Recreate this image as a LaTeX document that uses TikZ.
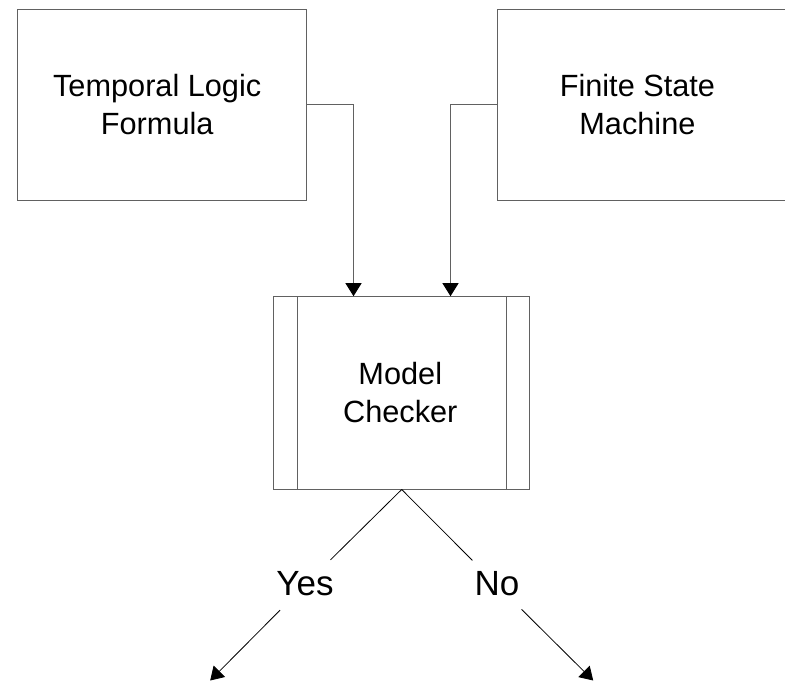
\documentclass[tikz,border=0pt]{standalone}
\usepackage{fontspec}
\setmainfont{Liberation Sans}
\usetikzlibrary{arrows.meta,calc}

\tikzset{
  frame/.style={draw=black!62, line width=1pt, fill=white, inner sep=0pt},
  boxtext/.style={align=center, inner sep=0pt,
    font=\fontsize{30.7}{37.8}\selectfont},
  tip/.style={-{Triangle[width=16pt,length=13pt,color=black]}},
  flow/.style={draw=black!62, line width=1pt, tip},
  verdict/.style={font=\fontsize{35}{40}\selectfont, anchor=base,
    text height=25pt, text depth=5pt, inner xsep=2pt, inner ysep=10pt},
  branch/.style={draw=black, line width=0.8pt},
}

\begin{document}
\begin{tikzpicture}[x=1pt,y=-1pt]
  \path[use as bounding box, clip] (0,0) rectangle (785,681);

  % input boxes
  \node[frame, minimum width=288.5pt, minimum height=191.7pt] (tlf) at (161.75,104.85) {};
  \node[boxtext] (tlft) at (157.2,104.85) {Temporal Logic\\Formula};

  \node[frame, minimum width=288.5pt, minimum height=191.7pt] (fsm) at (641.95,104.85) {};
  \node[boxtext] (fsmt) at (637.4,104.85) {Finite State\\Machine};

  % predefined-process box
  \node[frame, minimum width=256pt, minimum height=192.3pt] (mc) at (401.7,392.85) {};
  \draw[draw=black!62, line width=1pt]
    ([xshift=24pt]mc.north west) -- ([xshift=24pt]mc.south west)
    ([xshift=-24pt]mc.north east) -- ([xshift=-24pt]mc.south east);
  \node[boxtext] (mct) at (400.3,392.85) {Model\\Checker};

  % inputs into the checker
  \draw[flow] (tlf.east) -| ([xshift=80.3pt]mc.north west);
  \draw[flow] (fsm.west) -| ([xshift=-79.7pt]mc.north east);

  % outcomes
  \node[verdict] (yes) at (305,595) {Yes};
  \node[verdict] (no) at (497,595) {No};
  \coordinate (yesend) at (210.2,680.5);
  \coordinate (noend) at (593.2,680.5);

  \draw[branch] (mc.south) -- (yes);
  \draw[branch] (mc.south) -- (no);
  \draw[branch, tip] (yes) -- (yesend);
  \draw[branch, tip] (no) -- (noend);
\end{tikzpicture}
\end{document}
